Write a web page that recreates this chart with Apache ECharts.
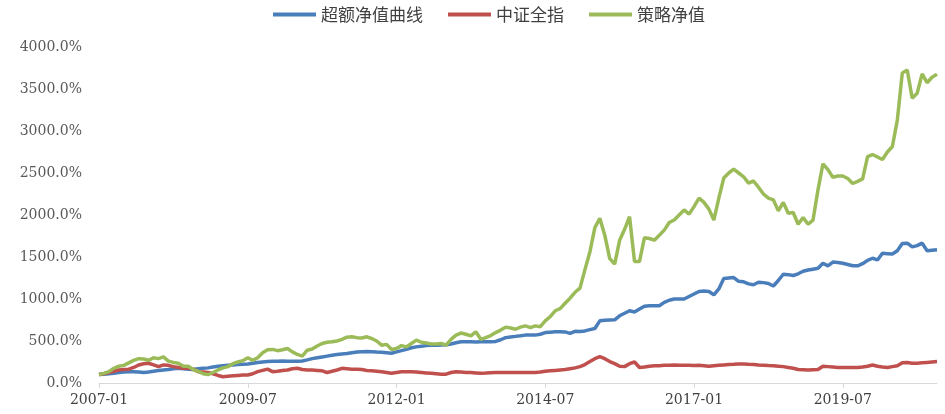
<!DOCTYPE html>
<html>
<head>
<meta charset="utf-8">
<script src="https://cdn.jsdelivr.net/npm/echarts@6/dist/echarts.min.js"></script>
<style>
  html, body { margin: 0; padding: 0; background: #fff; }
  #main { width: 945px; height: 414px; }
</style>
</head>
<body>
<div id="main"></div>
<script>
  // 月度数据 2007-01 ~ 2021-02，单位 %
  var seriesNames = ['超额净值曲线', '中证全指', '策略净值'];

  var excessNav = [
    100,105,110,115,125,130,135,135,130,125,130,140,150,155,160,170,175,170,165,160,
    170,175,180,190,200,205,210,215,220,222,225,235,245,250,255,258,260,262,260,258,
    260,262,275,290,300,310,320,330,340,345,350,360,368,372,375,372,368,365,360,355,
    370,385,400,420,430,438,445,450,450,452,455,465,480,490,492,490,488,490,492,490,
    495,515,540,548,555,562,570,570,570,580,600,605,610,610,608,590,615,612,620,635,
    648,740,748,750,752,800,830,860,845,880,915,920,920,920,960,985,1000,1000,1000,1030,
    1060,1090,1095,1090,1050,1120,1245,1250,1255,1210,1205,1180,1170,1200,1195,1185,1155,1220,1295,1290,
    1280,1300,1330,1345,1355,1365,1425,1395,1440,1435,1425,1410,1395,1395,1420,1460,1485,1465,1545,1540,
    1535,1575,1660,1665,1620,1635,1665,1575,1580,1585
  ];

  var csiAll = [
    100,110,125,140,155,160,165,185,215,230,235,215,195,215,210,195,185,175,175,165,
    135,130,125,110,90,75,80,85,90,95,95,110,135,150,165,135,140,150,155,170,
    175,160,155,155,150,145,125,140,155,175,170,165,165,160,150,145,140,135,125,115,
    125,135,135,135,130,125,120,115,110,105,105,125,135,130,125,125,120,115,118,122,
    125,125,125,125,125,125,125,125,125,130,140,145,150,155,160,170,180,195,220,255,
    290,315,290,255,230,200,195,230,250,185,190,200,205,205,210,210,215,212,210,212,
    208,210,205,200,205,210,215,220,222,225,225,222,220,215,212,208,205,200,195,185,
    175,160,158,155,158,160,200,195,190,185,185,185,185,185,190,200,215,200,190,185,
    195,205,240,245,235,235,240,245,250,255
  ];

  var strategyNav = [
    100,115,135,175,200,210,240,270,290,285,270,300,290,310,260,245,235,200,200,160,
    140,110,100,125,155,180,195,230,250,265,300,270,300,360,395,400,385,395,410,370,
    340,320,390,405,440,470,485,490,500,520,545,550,540,535,550,530,500,450,460,400,
    410,445,430,470,510,485,475,465,465,470,450,520,570,595,580,560,610,520,540,565,
    600,630,665,655,640,665,680,660,680,670,740,790,860,885,950,1010,1080,1130,1350,1560,
    1850,1960,1760,1480,1415,1700,1830,1980,1445,1445,1730,1720,1700,1760,1820,1910,1940,2000,2060,2010,
    2100,2200,2150,2070,1940,2200,2440,2500,2545,2500,2455,2380,2405,2330,2250,2200,2180,2050,2150,2020,
    2030,1890,1970,1890,1940,2300,2610,2540,2450,2465,2465,2435,2375,2400,2430,2695,2720,2690,2660,2750,
    2815,3130,3690,3725,3390,3450,3680,3575,3640,3675
  ];

  var yTicks = [0, 500, 1000, 1500, 2000, 2500, 3000, 3500, 4000];

  // 月份类目
  var months = [];
  for (var k = 0; k < excessNav.length; k++) {
    var yy = 2007 + Math.floor(k / 12);
    var mm = k % 12 + 1;
    months.push(yy + '-' + (mm < 10 ? '0' + mm : mm));
  }

  var myChart = echarts.init(document.getElementById('main'));
  var labelFont = 'DejaVu Serif';
  var option = {
    color: ['#4a7ebb', '#c0504d', '#9bbb59'],
    animation: false,
    legend: {
      data: seriesNames,
      left: 268,
      top: 1,
      icon: 'rect',
      itemWidth: 43,
      itemHeight: 4,
      itemGap: 25,
      textStyle: {
        fontFamily: 'Noto Sans CJK SC',
        fontSize: 17,
        color: '#404040'
      }
    },
    grid: {
      left: 99,
      right: 8,
      top: 47,
      bottom: 31
    },
    xAxis: {
      type: 'category',
      data: months,
      boundaryGap: false,
      axisLine: { lineStyle: { color: '#d9d9d9', width: 1 } },
      axisTick: {
        show: true,
        interval: 29,
        length: 5,
        lineStyle: { color: '#d9d9d9' }
      },
      axisLabel: {
        interval: 29,
        margin: 10,
        fontFamily: labelFont,
        fontSize: 14,
        color: '#404040'
      },
      splitLine: { show: false }
    },
    yAxis: {
      type: 'value',
      min: yTicks[0],
      max: yTicks[yTicks.length - 1],
      interval: 500,
      axisLine: { show: false },
      axisTick: { show: false },
      splitLine: { show: false },
      axisLabel: {
        margin: 17,
        fontFamily: labelFont,
        fontSize: 14,
        color: '#595959',
        formatter: function (v) { return v.toFixed(1) + '%'; }
      }
    },
    series: [
      {
        name: seriesNames[0],
        type: 'line',
        data: excessNav,
        symbol: 'none',
        lineStyle: { width: 3.5 }
      },
      {
        name: seriesNames[1],
        type: 'line',
        data: csiAll,
        symbol: 'none',
        lineStyle: { width: 3.5 }
      },
      {
        name: seriesNames[2],
        type: 'line',
        data: strategyNav,
        symbol: 'none',
        lineStyle: { width: 3.5 }
      }
    ]
  };
  myChart.setOption(option);
  window.addEventListener('resize', function () { myChart.resize(); });
</script>
</body>
</html>
